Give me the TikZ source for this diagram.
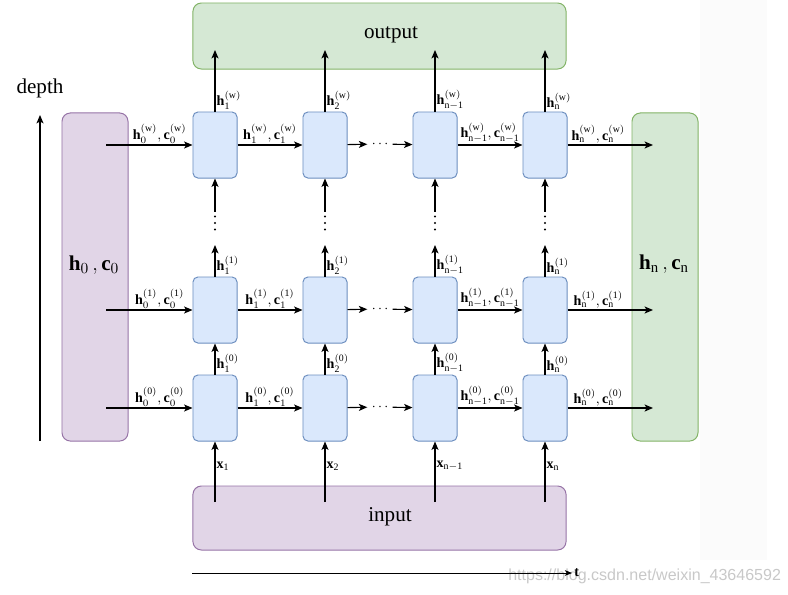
\documentclass[tikz,border=0pt]{standalone}
\usepackage{fontspec}
\setmainfont{Liberation Serif}
\setsansfont{Liberation Sans}
\usetikzlibrary{arrows.meta,positioning}
\definecolor{cellfill}{HTML}{DAE8FC}
\definecolor{celldraw}{HTML}{6C8EBF}
\definecolor{purplefill}{HTML}{E1D5E7}
\definecolor{purpledraw}{HTML}{9673A6}
\definecolor{greenfill}{HTML}{D5E8D4}
\definecolor{greendraw}{HTML}{82B366}
\definecolor{bandgray}{HTML}{FBFBFB}
\definecolor{wmgray}{HTML}{C8C8C8}

\begin{document}
\begin{tikzpicture}[x=0.025cm, y=-0.025cm,
    every node/.style={font=\fontsize{10}{12}\selectfont},
    cell/.style={draw=celldraw, fill=cellfill, line width=0.7pt, rounded corners=3.5pt,
        minimum width=1.1cm, minimum height=1.65cm, inner sep=0pt},
    bigbox/.style={line width=0.7pt, rounded corners=6pt, inner sep=0pt},
    bigtext/.style={font=\fontsize{15}{18}\selectfont},
    arr/.style={line width=0.8pt, -{Stealth[length=6pt, width=5pt, inset=1.5pt]}},
    hlab/.style={inner sep=1pt, anchor=south},
    vlab/.style={inner sep=1pt, anchor=south west}]
    \useasboundingbox (0,0) rectangle (788,594);
    \fill[bandgray] (700,0) rectangle (767,560);

    % Parameters
    \def\firstx{215}
    \def\cellgap{110}

    % Draw the big boxes
    \node[bigbox, fill=purplefill, draw=purpledraw, minimum width=1.65cm, minimum height=8.2cm] (hzero) at (95,277) {};
    \node[bigbox, fill=greenfill, draw=greendraw, minimum width=1.65cm, minimum height=8.2cm] (hlast) at (665,277) {};
    \node[bigbox, fill=greenfill, draw=greendraw, minimum width=9.325cm, minimum height=1.65cm] (outbox) at (379.5,36) {};
    \node[bigbox, fill=purplefill, draw=purpledraw, minimum width=9.325cm, minimum height=1.6cm] (inbox) at (379.5,518) {};
    \node[bigtext] (hzerotext) at (94,265) {$\mathbf{h}_0\,,\mathbf{c}_0$};
    \node[bigtext] (hlasttext) at (664,264) {$\mathbf{h}_\mathrm{n}\,,\mathbf{c}_\mathrm{n}$};
    \node[bigtext] (outtext) at (391,35) {output};
    \node[bigtext] (intext) at (390,517) {input};

    % Draw the cells and the vertical arrows
    \foreach \c/\s in {1/1, 2/2, 3/n-1, 4/n} {
            \pgfmathsetmacro{\xpos}{\firstx+(\c-1)*\cellgap}
            \foreach \r/\l/\ypos in {0/0/408, 1/1/310, 2/w/145} {
                    \node[cell] (cell-\r-\c) at (\xpos,\ypos) {};
                    \node[vlab] (vlab-\r-\c) at (cell-\r-\c.north) {$\mathbf{h}_{\mathrm{\s}}^{(\mathrm{\l})}$};
                }
            \coordinate (in-\c) at (\xpos,502);
            \coordinate (up-\c) at (\xpos,245);
            \coordinate (out-\c) at (\xpos,50);
            \node[inner sep=0pt, minimum width=4pt, minimum height=0.55cm] (vdots-\c) at (\xpos,223) {};
            \foreach \d in {-6.5,0,6.5} {
                    \fill (\xpos,223+\d) circle (0.75pt);
                }
            \node[anchor=west, inner sep=1pt] (xlab-\c) at (\xpos,466) {$\mathbf{x}_{\mathrm{\s}}$};
            \draw[arr] (in-\c) -- (cell-0-\c);
            \draw[arr] (cell-0-\c) -- (cell-1-\c);
            \draw[arr] (cell-1-\c) -- (up-\c);
            \draw[arr] (vdots-\c) -- (cell-2-\c);
            \draw[arr] (cell-2-\c) -- (out-\c);
        }

    % Draw the horizontal arrows
    \foreach \r/\l/\ypos in {0/0/408, 1/1/310, 2/w/145} {
            \coordinate (src-\r) at (106,\ypos);
            \coordinate (dst-\r) at (653,\ypos);
            \node[inner sep=3pt] (dots-\r) at (380,\ypos-1) {$\cdots$};
            \draw[arr] (src-\r) -- (cell-\r-1)
                node[hlab, pos=0.62] {$\mathbf{h}_{0}^{(\mathrm{\l})},\mathbf{c}_{0}^{(\mathrm{\l})}$};
            \draw[arr] (cell-\r-1) -- (cell-\r-2)
                node[hlab, midway] {$\mathbf{h}_{1}^{(\mathrm{\l})},\mathbf{c}_{1}^{(\mathrm{\l})}$};
            \draw[arr] (cell-\r-2) -- (dots-\r);
            \draw[arr] (dots-\r) -- (cell-\r-3);
            \draw[arr] (cell-\r-3) -- (cell-\r-4)
                node[hlab, midway] {$\mathbf{h}_{\mathrm{n-1}}^{(\mathrm{\l})},\mathbf{c}_{\mathrm{n-1}}^{(\mathrm{\l})}$};
            \draw[arr] (cell-\r-4) -- (dst-\r)
                node[hlab, pos=0.36] {$\mathbf{h}_{\mathrm{n}}^{(\mathrm{\l})},\mathbf{c}_{\mathrm{n}}^{(\mathrm{\l})}$};
        }

    % Add the axes
    \coordinate (depth-start) at (40,441);
    \coordinate (depth-end) at (40,115);
    \node[bigtext] (depth) at (40,88) {depth};
    \draw[arr] (depth-start) -- (depth-end);
    \node[anchor=west, inner sep=0pt, text=wmgray, font=\sffamily\fontsize{11.4}{13}\selectfont] (watermark) at (508,576) {https://blog.csdn.net/weixin\_43646592};
    \coordinate (t-start) at (192,573);
    \node[anchor=west, inner sep=1.5pt] (tlab) at (572,573) {$\mathbf{t}$};
    \draw[line width=0.6pt, -{Stealth[length=5pt, width=4pt, inset=1.2pt]}] (t-start) -- (tlab.west);
\end{tikzpicture}
\end{document}
